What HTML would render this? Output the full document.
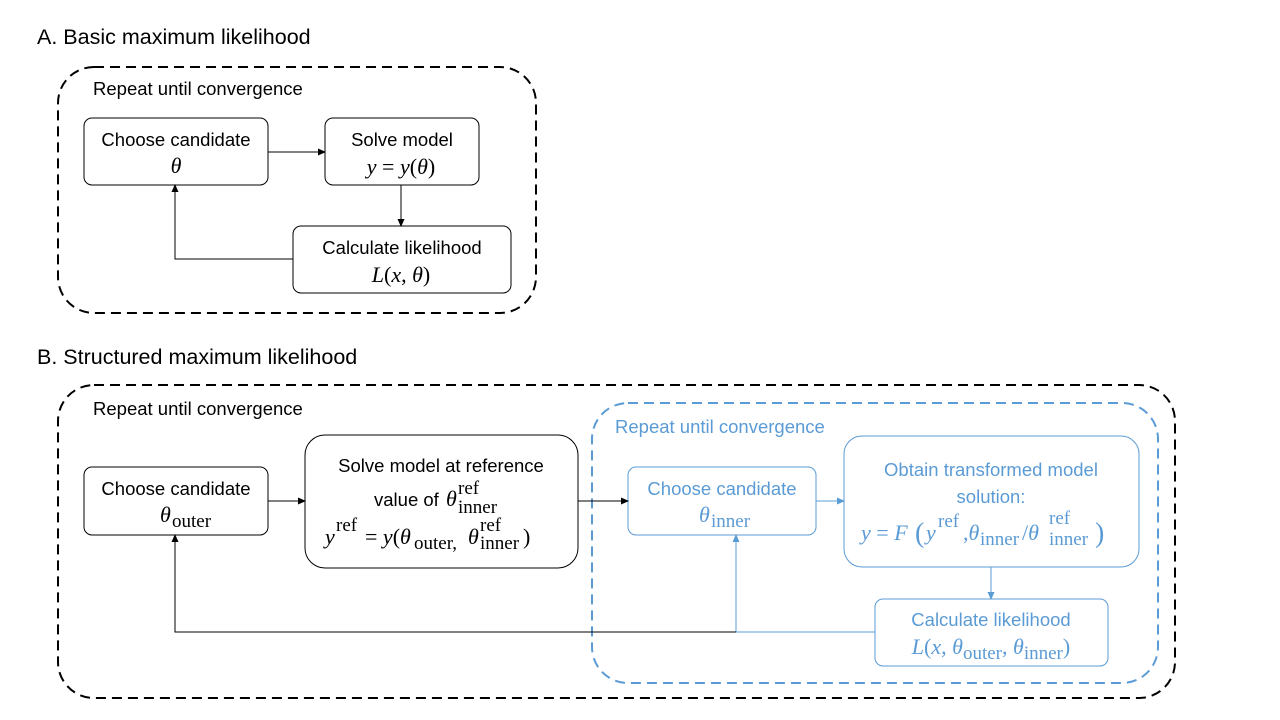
<!DOCTYPE html>
<html><head><style>body{margin:0;background:#fff}svg{display:block}
.t{font-family:"Liberation Sans",sans-serif;font-size:18.5px}
.m{font-family:"Liberation Serif",serif;font-size:22px}
.i{font-style:italic}
.sb{font-family:"Liberation Serif",serif;font-size:19px}
</style></head><body>
<svg width="1280" height="720" viewBox="0 0 1280 720">
<defs>
<marker id="ak" markerWidth="8" markerHeight="8" refX="7" refY="4" orient="auto" markerUnits="userSpaceOnUse"><path d="M0,0.5 L8,4 L0,7.5z" fill="#000"/></marker>
<marker id="ab" markerWidth="8" markerHeight="8" refX="7" refY="4" orient="auto" markerUnits="userSpaceOnUse"><path d="M0,0.5 L8,4 L0,7.5z" fill="#5b9bd5"/></marker>
</defs>
<text x="37" y="44" class="t" style="font-size:21.5px">A. Basic maximum likelihood</text>
<rect x="58" y="67" width="478" height="246" rx="36" fill="none" stroke="#000" stroke-width="2" stroke-dasharray="10,6"/>
<text x="93" y="95" class="t">Repeat until convergence</text>
<rect x="84" y="118" width="184" height="67" rx="8" fill="none" stroke="#000"/>
<text x="176" y="146" class="t" text-anchor="middle">Choose candidate</text>
<text x="176" y="173" class="m i" text-anchor="middle">θ</text>
<rect x="325" y="118" width="154" height="67" rx="8" fill="none" stroke="#000"/>
<text x="402" y="146" class="t" text-anchor="middle">Solve model</text>
<text x="401" y="174" class="m" text-anchor="middle"><tspan class="i">y</tspan> = <tspan class="i">y</tspan>(<tspan class="i">θ</tspan>)</text>
<rect x="293" y="226" width="218" height="67" rx="8" fill="none" stroke="#000"/>
<text x="402" y="254" class="t" text-anchor="middle">Calculate likelihood</text>
<text x="401" y="282" class="m" text-anchor="middle"><tspan class="i">L</tspan>(<tspan class="i">x</tspan>, <tspan class="i">θ</tspan>)</text>
<line x1="268" y1="152" x2="325" y2="152" stroke="#000" marker-end="url(#ak)"/>
<line x1="401" y1="185" x2="401" y2="226" stroke="#000" marker-end="url(#ak)"/>
<polyline points="293,259 175,259 175,185" fill="none" stroke="#000" marker-end="url(#ak)"/>

<text x="37" y="364" class="t" style="font-size:21.5px">B. Structured maximum likelihood</text>
<rect x="58" y="385" width="1117" height="313" rx="36" fill="none" stroke="#000" stroke-width="2" stroke-dasharray="10,6"/>
<text x="93" y="415" class="t">Repeat until convergence</text>
<rect x="592" y="403" width="566" height="280" rx="36" fill="none" stroke="#5b9bd5" stroke-width="2" stroke-dasharray="10,6"/>
<text x="615" y="433" class="t" fill="#5b9bd5">Repeat until convergence</text>

<rect x="84" y="467" width="184" height="68" rx="8" fill="none" stroke="#000"/>
<text x="176" y="495" class="t" text-anchor="middle">Choose candidate</text>
<text x="160" y="522" class="m i">θ</text><text x="172" y="527" class="sb">outer</text>

<rect x="305" y="435" width="273" height="133" rx="20" fill="none" stroke="#000"/>
<text x="441" y="472" class="t" text-anchor="middle">Solve model at reference</text>
<text x="374" y="506" class="t">value of</text>
<text x="446" y="506" class="m i">θ</text>
<text x="458" y="494" class="sb">ref</text>
<text x="458" y="513" class="sb">inner</text>
<text x="325" y="544" class="m i">y</text>
<text x="336" y="531" class="sb">ref</text>
<text x="365" y="544" class="m">= <tspan class="i">y</tspan>(<tspan class="i">θ</tspan></text>
<text x="414" y="549" class="sb">outer,</text>
<text x="468" y="544" class="m i">θ</text>
<text x="480" y="531" class="sb">ref</text>
<text x="480" y="549" class="sb">inner</text>
<text x="523" y="544" class="m">)</text>

<rect x="628" y="467" width="188" height="68" rx="8" fill="none" stroke="#5b9bd5"/>
<text x="722" y="495" class="t" text-anchor="middle" fill="#5b9bd5">Choose candidate</text>
<g fill="#5b9bd5"><text x="699" y="522" class="m i">θ</text><text x="711" y="527" class="sb">inner</text></g>

<rect x="844" y="436" width="295" height="131" rx="18" fill="none" stroke="#5b9bd5"/>
<text x="991" y="476" class="t" text-anchor="middle" fill="#5b9bd5">Obtain transformed model</text>
<text x="991" y="503" class="t" text-anchor="middle" fill="#5b9bd5">solution:</text>
<g fill="#5b9bd5">
<text x="861" y="540" class="m"><tspan class="i">y</tspan> = <tspan class="i">F</tspan></text>
<text x="915" y="542" class="m" style="font-size:28px">(</text>
<text x="926" y="540" class="m i">y</text>
<text x="938" y="527" class="sb">ref</text>
<text x="963" y="540" class="m">,<tspan class="i">θ</tspan></text>
<text x="980" y="545" class="sb">inner</text>
<text x="1022" y="540" class="m">/<tspan class="i">θ</tspan></text>
<text x="1049" y="524" class="sb">ref</text>
<text x="1049" y="545" class="sb">inner</text>
<text x="1095" y="542" class="m" style="font-size:28px">)</text>
</g>

<rect x="875" y="599" width="233" height="67" rx="8" fill="none" stroke="#5b9bd5"/>
<text x="991" y="626" class="t" text-anchor="middle" fill="#5b9bd5">Calculate likelihood</text>
<text x="991" y="654" class="m" text-anchor="middle" fill="#5b9bd5"><tspan class="i">L</tspan>(<tspan class="i">x</tspan>, <tspan class="i">θ</tspan><tspan style="font-size:19px" dy="5">outer</tspan><tspan dy="-5">, </tspan><tspan class="i">θ</tspan><tspan style="font-size:19px" dy="5">inner</tspan><tspan dy="-5">)</tspan></text>

<line x1="268" y1="501" x2="305" y2="501" stroke="#000" marker-end="url(#ak)"/>
<line x1="578" y1="501" x2="628" y2="501" stroke="#000" marker-end="url(#ak)"/>
<line x1="816" y1="501" x2="844" y2="501" stroke="#5b9bd5" marker-end="url(#ab)"/>
<line x1="991" y1="567" x2="991" y2="599" stroke="#5b9bd5" marker-end="url(#ab)"/>
<line x1="875" y1="632" x2="736" y2="632" stroke="#5b9bd5"/>
<line x1="736" y1="632" x2="736" y2="535" stroke="#5b9bd5" marker-end="url(#ab)"/>
<polyline points="736,632 175,632 175,535" fill="none" stroke="#000" marker-end="url(#ak)"/>
</svg>
</body></html>
